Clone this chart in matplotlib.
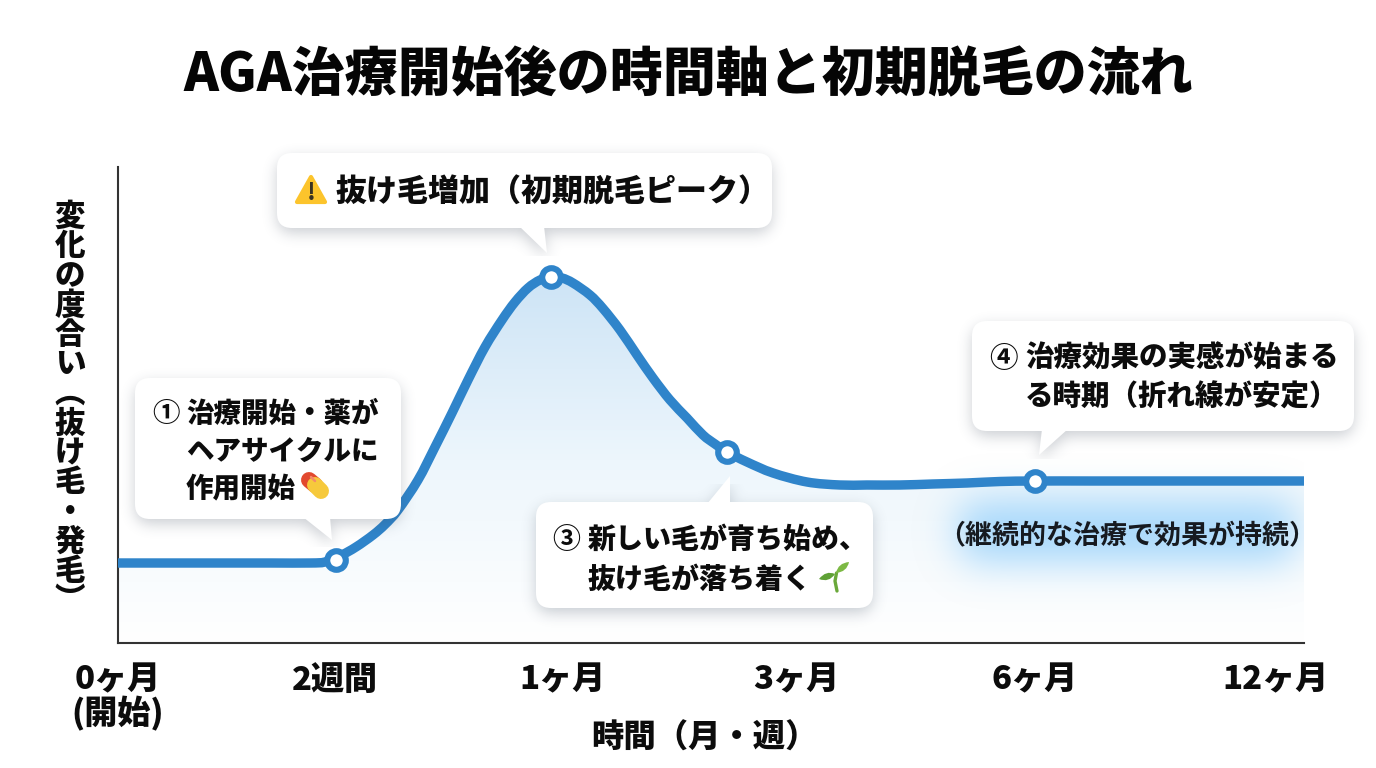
import numpy as np
import matplotlib
matplotlib.use('Agg')
import matplotlib.pyplot as plt
from matplotlib.colors import LinearSegmentedColormap, to_rgb
from matplotlib.patches import FancyBboxPatch, Polygon, PathPatch
from matplotlib.path import Path

plt.rcParams['font.family'] = ['Noto Sans CJK JP', 'DejaVu Sans']
plt.rcParams['font.weight'] = 'bold'

W, H = 1376, 768
LEFT, RIGHT, TOP, BOTTOM = 118, 1304, 167, 643
LINE_BLUE = '#2f84ca'
INK = '#0c0c0c'

title = 'AGA治療開始後の時間軸と初期脱毛の流れ'
x_title = '時間（月・週）'
y_title = ['変', '化', 'の', '度', '合', 'い', '︵', '抜', 'け', '毛', '・', '発', '毛', '︶']
tick_pos = [0, 217, 444, 678, 917, 1157]
tick_labels = ['0ヶ月\n(開始)', '2週間', '1ヶ月', '3ヶ月', '6ヶ月', '12ヶ月']

# curve samples along the time axis
curve_x = [0, 52, 102, 152, 192, 207, 222, 238, 255, 267, 280, 300, 317, 334, 350,
           367, 384, 397, 410, 422, 433, 444, 455, 472, 485, 502, 519, 535, 552, 569,
           585, 597, 609, 629, 655, 689, 722, 749, 782, 815, 849, 882, 917, 972, 1032,
           1082, 1132, 1186]
curve_y = [80, 80, 80, 80, 80, 81, 87, 96, 108, 118.5, 133, 163, 196, 230, 263,
           296, 323, 341, 355, 363, 366, 365, 360, 348, 334.5, 313, 288, 265, 243, 225,
           208, 199, 191, 181, 170, 161, 158, 158, 158, 159, 160, 161.5, 162, 162, 162,
           162, 162, 162]
stage_x = [218, 433, 609, 917]
stage_y = [83, 366, 191, 162]

note_text = '（継続的な治療で効果が持続）'
peak_text = '抜け毛増加（初期脱毛ピーク）'
stage1_lines = ['治療開始・薬が', 'ヘアサイクルに', '作用開始']
stage3_lines = ['新しい毛が育ち始め、', '抜け毛が落ち着く']
stage4_lines = ['治療効果の実感が始まる', 'る時期（折れ線が安定）']


def smooth_path(xs, ys):
    # Catmull-Rom through the samples, written out as cubic bezier segments
    pts = np.column_stack([xs, ys]).astype(float)
    verts = [pts[0]]
    codes = [Path.MOVETO]
    for i in range(len(pts) - 1):
        p0 = pts[max(i - 1, 0)]
        p1 = pts[i]
        p2 = pts[i + 1]
        p3 = pts[min(i + 2, len(pts) - 1)]
        verts += [p1 + (p2 - p0) / 6, p2 - (p3 - p1) / 6, p2]
        codes += [Path.CURVE4] * 3
    return np.array(verts), codes


def gauss_blur(a, sigma):
    n = int(sigma * 3)
    k = np.exp(-0.5 * (np.arange(-n, n + 1) / sigma) ** 2)
    k /= k.sum()
    a = np.apply_along_axis(lambda r: np.convolve(r, k, mode='same'), 0, a)
    return np.apply_along_axis(lambda r: np.convolve(r, k, mode='same'), 1, a)


def soft_image(target, box, radius, sigma, color, strength, tail=None, to_axes=False, zorder=1):
    # blurred rounded box (and optional tail triangle) as an RGBA image
    x0, y0, x1, y1 = box
    pad = int(sigma * 3) + 2
    gx0, gy0 = x0 - pad, y0 - pad
    w, h = x1 - x0 + 2 * pad, y1 - y0 + 2 * pad
    yy, xx = np.mgrid[gy0:gy0 + h, gx0:gx0 + w] + 0.5
    cx, cy = (x0 + x1) / 2, (y0 + y1) / 2
    qx = np.abs(xx - cx) - ((x1 - x0) / 2 - radius)
    qy = np.abs(yy - cy) - ((y1 - y0) / 2 - radius)
    d = np.hypot(np.maximum(qx, 0), np.maximum(qy, 0)) + np.minimum(np.maximum(qx, qy), 0) - radius
    mask = (d < 0).astype(float)
    if tail is not None:
        inside = Path(tail).contains_points(np.column_stack([xx.ravel(), yy.ravel()]))
        mask = np.maximum(mask, inside.reshape(mask.shape).astype(float))
    alpha = gauss_blur(mask, sigma) * strength
    img = np.zeros((h, w, 4))
    img[..., :3] = to_rgb(color)
    img[..., 3] = alpha
    extent = (gx0, gx0 + w, gy0 + h, gy0)
    if to_axes:
        extent = (gx0 - LEFT, gx0 + w - LEFT, BOTTOM - (gy0 + h), BOTTOM - gy0)
    target.imshow(img, extent=extent, origin='upper', aspect='auto',
                  interpolation='bilinear', zorder=zorder)


fig = plt.figure(figsize=(W / 100, H / 100), dpi=100, facecolor='white')
ax = fig.add_axes([LEFT / W, 1 - BOTTOM / H, (RIGHT - LEFT) / W, (BOTTOM - TOP) / H])

verts, codes = smooth_path(curve_x, curve_y)

# area under the curve, fading out towards the axis
area_verts = np.vstack([verts, [[curve_x[-1], 0], [curve_x[0], 0], [curve_x[0], curve_y[0]]]])
area_codes = codes + [Path.LINETO, Path.LINETO, Path.LINETO]
area = PathPatch(Path(area_verts, area_codes), fc='none', ec='none')
ax.add_patch(area)
fade = LinearSegmentedColormap.from_list('fade', ['#ffffff', '#edf6fc', '#cde4f6'])
grad = ax.imshow(np.linspace(1, 0, 256).reshape(-1, 1), extent=(0, RIGHT - LEFT, 0, 366),
                 cmap=fade, aspect='auto', zorder=1)
grad.set_clip_path(area)

# glow behind the note under the plateau
soft_image(ax, (958, 502, 1296, 562), 20, 19, '#a2d6fb', 0.95, to_axes=True, zorder=2)
ax.set_xlim(0, RIGHT - LEFT)
ax.set_ylim(0, BOTTOM - TOP)

ax.add_patch(PathPatch(Path(verts, codes), fc='none', ec=LINE_BLUE, lw=6.8,
                       capstyle='butt', zorder=3))
ax.plot(stage_x, stage_y, ls='none', marker='o', ms=13.4, mfc='white', mec=LINE_BLUE,
        mew=4.4, zorder=4, clip_on=False)

for side in ['top', 'right']:
    ax.spines[side].set_visible(False)
for side in ['left', 'bottom']:
    ax.spines[side].set_linewidth(1.5)
    ax.spines[side].set_color('#333333')
ax.set_yticks([])
ax.set_xticks(tick_pos)
ax.set_xticklabels(tick_labels, fontsize=23.8, color=INK, linespacing=0.98, fontweight='black')
ax.tick_params(axis='x', length=0, pad=14.5)
ax.set_xlabel(x_title, fontsize=23.3, color=INK, fontweight='black',
              x=(704 - LEFT) / (RIGHT - LEFT), labelpad=-7)

# pixel-space layer for the callouts and headings
top = fig.add_axes([0, 0, 1, 1], facecolor='none')
top.set_axis_off()


def put(x, yc, s, px, ha='left', color=INK, zorder=8, weight='black'):
    top.text(x, yc + 0.36 * px, s, fontsize=px * 0.72, ha=ha, va='baseline', color=color,
             zorder=zorder, fontweight=weight)


def bubble(box, tail, radius=15):
    x0, y0, x1, y1 = box
    soft_image(top, (x0, y0 + 5, x1, y1 + 5), radius, 7, '#3a4658', 0.26,
               tail=[(a, b + 5) for a, b in tail], zorder=5)
    top.add_patch(FancyBboxPatch((x0 + radius, y0 + radius), x1 - x0 - 2 * radius, y1 - y0 - 2 * radius,
                                 boxstyle=f'round,pad={radius},rounding_size={radius}',
                                 fc='white', ec='none', zorder=6))
    top.add_patch(Polygon(tail, closed=True, fc='white', ec='none', zorder=6))


bubble((277, 153, 772, 228), [(519, 226), (544, 226), (547, 253)])
bubble((135, 378, 401, 519), [(303, 517), (330, 517), (332, 540)])
bubble((536, 502, 873, 608), [(707, 504), (730, 504), (730, 476)])
bubble((972, 321, 1354, 431), [(1042, 429), (1068, 429), (1039, 455)])

# warning sign
top.add_patch(Polygon([(311, 177), (325, 202), (297, 202)], closed=True, fc='#fcc42c', ec='#fcc42c',
                      lw=3, joinstyle='round', zorder=7))
put(311, 191, '!', 24, ha='center', color='#3a3222', weight='bold')
put(336, 190, peak_text, 31)

put(152, 412, '①', 27.5, weight='bold')
for i, line in enumerate(stage1_lines):
    put(186, 412 + i * 37.5, line, 27.5)
# capsule
top.plot([309, 315], [480, 485], color='#e2492f', lw=11.5, solid_capstyle='round', zorder=7)
top.plot([315, 321], [485, 491], color='#f6c93c', lw=11.5, solid_capstyle='round', zorder=7)
top.plot([311, 315], [477, 481], color='#f58a6b', lw=1.8, solid_capstyle='round', zorder=7)

put(552, 538, '③', 28, weight='bold')
for i, line in enumerate(stage3_lines):
    put(588, 538 + i * 40, line, 28)
# seedling
top.plot([836.5, 835, 837], [573, 581, 591], color='#6aa83a', lw=2.4, solid_capstyle='round', zorder=7)
for leaf, col in [([(835, 574), (826, 570), (819, 579), (829, 583), (835, 574)], '#5fa136'),
                  ([(836, 573), (838, 563), (849, 562), (847, 572), (836, 573)], '#7cb944')]:
    leaf_codes = [Path.MOVETO, Path.CURVE3, Path.CURVE3, Path.CURVE3, Path.CURVE3]
    top.add_patch(PathPatch(Path(leaf, leaf_codes), fc=col, ec='none', zorder=7))

put(989, 357, '④', 28.5, weight='bold')
for i, line in enumerate(stage4_lines):
    put(1025, 357 + i * 38.5, line, 28.5)

put(1127, 535, note_text, 27, ha='center', color='#161a20', weight='bold')

put(688.5, 72, title, 53, ha='center', color='#050505')

for i, ch in enumerate(y_title):
    put(70, 215 + i * 29.5, ch, 30.5, ha='center')

top.set_xlim(0, W)
top.set_ylim(H, 0)

fig.savefig('out.png', dpi=100)
